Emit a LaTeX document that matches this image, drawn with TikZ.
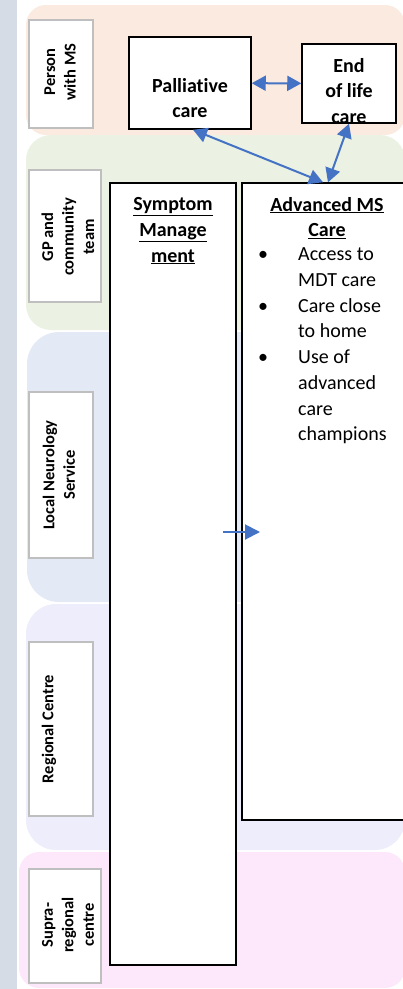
\documentclass[tikz,border=0pt]{standalone}
\usepackage{fontspec}
\setmainfont{Carlito}[Ligatures=NoCommon]
\usetikzlibrary{arrows.meta}

\definecolor{stripgrey}{HTML}{D6DCE5}
\definecolor{peachband}{HTML}{FBEADF}
\definecolor{greenband}{HTML}{EBF2E3}
\definecolor{blueband}{HTML}{E3E9F5}
\definecolor{lavband}{HTML}{EDEDFB}
\definecolor{pinkband}{HTML}{FDE7FB}
\definecolor{lblgrey}{HTML}{BFBFBF}
\definecolor{linkblue}{HTML}{4472C4}

\tikzset{
  lvlbox/.style={draw=lblgrey, line width=1.5pt, fill=white, inner sep=0pt},
  lvltext/.style={rotate=90, align=center, inner sep=0pt,
    font=\bfseries\fontsize{16.5}{20.5}\selectfont},
  carebox/.style={draw=black, line width=1.5pt, fill=white, inner sep=0pt},
  caretext/.style={align=center, inner sep=0pt,
    font=\bfseries\fontsize{20}{25.6}\selectfont},
  listtext/.style={align=left, inner sep=0pt,
    font=\fontsize{20}{25.7}\selectfont},
  link/.style={draw=linkblue, line width=2pt, {Triangle[length=14pt,width=15pt]}-{Triangle[length=14pt,width=15pt]}},
}

\newcommand{\bul}{\makebox[40pt][l]{\textbullet}}
\newcommand{\ind}{\hspace*{40pt}}

\begin{document}
\begin{tikzpicture}[x=1pt,y=-1pt]
\useasboundingbox (0,0) rectangle (403,989);

% level bands
\fill[stripgrey] (0,0) rectangle (17,989);
\fill[peachband, rounded corners=20pt] (26,5) rectangle (405,135);
\fill[greenband, rounded corners=25pt] (26,135) rectangle (405,330);
\fill[blueband, rounded corners=32pt] (27,332) rectangle (405,602);
\fill[lavband, rounded corners=30pt] (26,604) rectangle (405,850);
\fill[pinkband, rounded corners=20pt] (19,852) rectangle (405,988);

% level labels
\node[lvlbox, minimum width=64pt, minimum height=108pt] (lvlpers) at (61,74) {};
\node[lvltext] at (60,72) {Person\\with MS};
\node[lvlbox, minimum width=72pt, minimum height=132pt] (lvlgp) at (65,236) {};
\node[lvltext] at (68,237) {GP and\\community\\team};
\node[lvlbox, minimum width=64pt, minimum height=166pt] (lvllocal) at (61,475) {};
\node[lvltext] at (59,475) {Local Neurology\\Service};
\node[lvlbox, minimum width=64pt, minimum height=174pt] (lvlreg) at (61,729) {};
\node[lvltext] at (49,729) {Regional Centre};
\node[lvlbox, minimum width=72pt, minimum height=114pt] (lvlsupra) at (65,926) {};
\node[lvltext] at (68,925) {Supra-\\regional\\centre};

% care boxes
\node[carebox, minimum width=122pt, minimum height=92pt] (pal) at (190,83) {};
\node[caretext] (paltxt) at (190,98) {Palliative\\care};
\node[carebox, minimum width=94pt, minimum height=79pt] (eol) at (349,83.5) {};
\node[caretext] (eoltxt) at (349,91) {End\\of life\\care};

\node[carebox, minimum width=126pt, minimum height=782pt] (sym) at (173,574) {};
\node[caretext] (symtxt) at (173,231) {\underline{Symptom}\\\underline{Manage}\\\underline{ment}};

\node[carebox, minimum width=170pt, minimum height=637pt] (adv) at (327,501.5) {};
\node[caretext] (advtxt) at (327,218) {\underline{Advanced MS}\\\underline{Care}};
\node[listtext, anchor=west] (advlist) at (258,346) {\bul Access to\\\ind MDT care\\\bul Care close\\\ind to home\\\bul Use of\\\ind advanced\\\ind care\\\ind champions};

% links
\draw[link] (pal) -- (eol);
\draw[link] ([xshift=3pt]pal.south) -- ([xshift=-4pt]adv.north);
\draw[link] (eol.south) -- ([xshift=1pt]adv.north);
\coordinate (symout) at (223,532);
\coordinate (advin) at (260,532);
\draw[draw=linkblue, line width=2pt, -{Triangle[length=15pt,width=15pt]}] (symout) -- (advin);
\end{tikzpicture}
\end{document}
